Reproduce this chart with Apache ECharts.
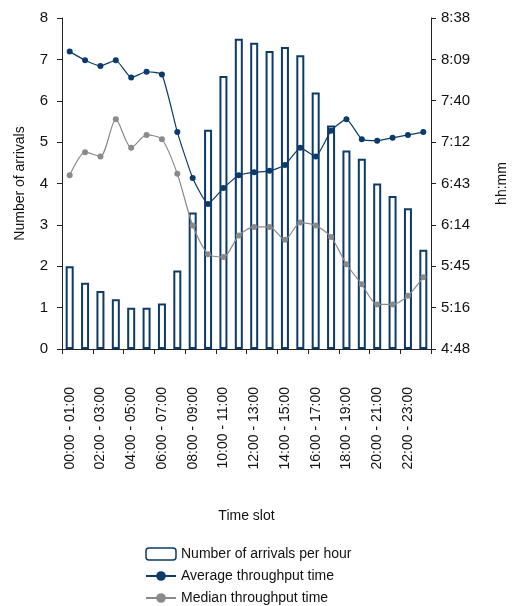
<!DOCTYPE html>
<html>
<head>
<meta charset="utf-8">
<script src="https://cdn.jsdelivr.net/npm/echarts@6/dist/echarts.min.js"></script>
<style>
  html, body { margin: 0; padding: 0; background: #fff; }
  #chart { width: 517px; height: 606px; }
</style>
</head>
<body>
<div id="chart"></div>
<script>
  // time slots, one per hour
  var slots = [];
  for (var h = 0; h < 24; h++) {
    var a = (h < 10 ? '0' : '') + h + ':00';
    var b = (h + 1 < 10 ? '0' : '') + (h + 1) + ':00';
    slots.push(a + ' - ' + b);
  }

  // number of arrivals per hour
  var arrivals = [2.0, 1.6, 1.4, 1.2, 1.0, 1.0, 1.1, 1.9, 3.3, 5.3, 6.6, 7.5,
                  7.4, 7.2, 7.3, 7.1, 6.2, 5.4, 4.8, 4.6, 4.0, 3.7, 3.4, 2.4];

  // throughput times in minutes
  var avgTime = [495, 489, 485, 489, 477, 481, 479, 439, 407, 389, 400, 409,
                 411, 412, 416, 428, 422, 440, 448, 434, 433, 435, 437, 439];
  var medianTime = [409, 425, 422, 448, 428, 437, 434, 410, 374, 354, 352, 367,
                    373, 373, 364, 376, 374, 366, 347, 333, 319, 319, 325, 338];

  var navy = '#0c3a6b';
  var grey = '#8a8a8a';
  var font = "'Liberation Sans', Arial, sans-serif";

  function hhmm(v) {
    var m = Math.floor(v + 1e-6);
    var mm = m % 60;
    return Math.floor(m / 60) + ':' + (mm < 10 ? '0' : '') + mm;
  }

  var chart = echarts.init(document.getElementById('chart'));
  chart.setOption({
    animation: false,
    textStyle: { fontFamily: font, color: '#111' },
    grid: { left: 62, right: 72, top: 18, bottom: 257 },
    legend: {
      orient: 'vertical',
      left: 145,
      top: 547,
      height: 70,
      padding: 0,
      itemGap: 8,
      itemWidth: 30,
      itemHeight: 12,
      textStyle: { fontFamily: font, fontSize: 14, color: '#111' },
      data: [
        { name: 'Number of arrivals per hour', itemStyle: { borderWidth: 1.5 } },
        { name: 'Average throughput time' },
        { name: 'Median throughput time' }
      ]
    },
    xAxis: {
      type: 'category',
      data: slots,
      name: 'Time slot',
      nameLocation: 'middle',
      nameGap: 160,
      nameTextStyle: { fontSize: 14, color: '#111' },
      axisLine: { lineStyle: { color: '#222' } },
      axisTick: { show: true, length: 5, lineStyle: { color: '#222' } },
      axisLabel: { interval: 1, rotate: 90, margin: 38, fontSize: 14, color: '#111' }
    },
    yAxis: [
      {
        type: 'value',
        min: 0,
        max: 8,
        interval: 1,
        name: 'Number of arrivals',
        nameLocation: 'middle',
        nameGap: 35,
        nameTextStyle: { fontSize: 14, color: '#111' },
        axisLine: { show: true, lineStyle: { color: '#222' } },
        axisTick: { show: true, length: 5, lineStyle: { color: '#222' } },
        axisLabel: { fontSize: 15, color: '#111', margin: 14 },
        splitLine: { show: false }
      },
      {
        type: 'value',
        min: 288,
        max: 518.4,
        interval: 28.8,
        name: 'hh:mm',
        nameLocation: 'middle',
        nameGap: 64,
        nameRotate: 90,
        nameTextStyle: { fontSize: 14, color: '#111' },
        axisLine: { show: true, lineStyle: { color: '#222' } },
        axisTick: { show: true, length: 5, lineStyle: { color: '#222' } },
        axisLabel: { fontSize: 15, color: '#111', margin: 10, formatter: hhmm },
        splitLine: { show: false }
      }
    ],
    series: [
      {
        name: 'Number of arrivals per hour',
        type: 'bar',
        data: arrivals,
        barWidth: 8,
        itemStyle: { color: '#fff', borderColor: navy, borderWidth: 2 }
      },
      {
        name: 'Average throughput time',
        type: 'line',
        yAxisIndex: 1,
        data: avgTime,
        smooth: 0.15,
        symbol: 'circle',
        symbolSize: 6,
        lineStyle: { color: navy, width: 1.2 },
        itemStyle: { color: navy }
      },
      {
        name: 'Median throughput time',
        type: 'line',
        yAxisIndex: 1,
        data: medianTime,
        smooth: 0.25,
        symbol: 'circle',
        symbolSize: 6,
        lineStyle: { color: grey, width: 1.2 },
        itemStyle: { color: grey }
      }
    ]
  });
</script>
</body>
</html>
